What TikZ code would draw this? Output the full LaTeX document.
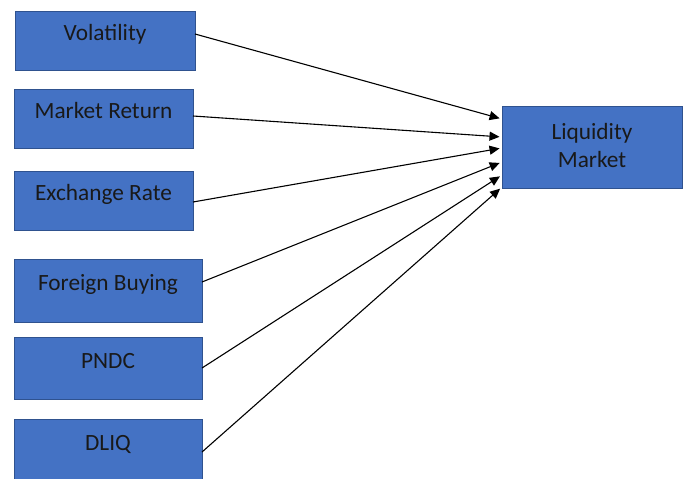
\documentclass[tikz,border=0pt]{standalone}
\usepackage{fontspec}
\setmainfont{Carlito}
\usetikzlibrary{arrows.meta}
\definecolor{boxfill}{HTML}{4472C4}
\definecolor{boxline}{HTML}{2F528F}
\begin{document}
\begin{tikzpicture}[x=1pt,y=-1pt,
  box/.style={rectangle, draw=boxline, fill=boxfill, line width=1pt,
    inner sep=0pt, outer sep=0pt},
  txt/.style={font=\fontsize{23.3}{28}\selectfont, text=black!90},
  % equal text height and depth put the baseline on the box centre
  factor/.style={box, txt, text height=10pt, text depth=10pt},
  link/.style={line width=1.1pt, black,
    -{Triangle[length=10pt,width=9pt]}, shorten >=2.5pt}]
\useasboundingbox (0,0) rectangle (686,479);
\fill[white] (0,0) rectangle (686,479);

% factor boxes
\node[factor, minimum width=180pt, minimum height=59pt] (vol)  at (105,40.5)   {Volatility};
\node[factor, minimum width=179pt, minimum height=59pt] (mret) at (103.5,118.5) {Market Return};
\node[factor, minimum width=179pt, minimum height=59pt] (exr)  at (103.5,200.5) {Exchange Rate};
\node[factor, minimum width=188pt, minimum height=63pt] (fb)   at (108,290.5)   {Foreign Buying};
\node[factor, minimum width=188pt, minimum height=62pt] (pndc) at (108,368)     {PNDC};
\node[factor, minimum width=188pt, minimum height=62pt] (dliq) at (108,450)     {DLIQ};

% outcome box
\node[box, minimum width=180pt, minimum height=82pt,
  label={[txt, inner sep=0pt, align=center, yshift=2pt]center:Liquidity\\Market}] (liq) at (592,147) {};

% arrows into the outcome box
\draw[link] ([yshift=6.5pt]vol.east)  -- ([yshift=28pt]liq.west);
\draw[link] ([yshift=2.5pt]mret.east) -- ([yshift=10pt]liq.west);
\draw[link] ([yshift=-1.5pt]exr.east) -- ([yshift=-1pt]liq.west);
\draw[link] ([yshift=8.5pt]fb.east)   -- ([yshift=-15pt]liq.west);
\draw[link] (pndc.east)               -- ([yshift=-28pt]liq.west);
\draw[link] ([yshift=-2pt]dliq.east)  -- ([yshift=-40pt]liq.west);
\end{tikzpicture}
\end{document}
